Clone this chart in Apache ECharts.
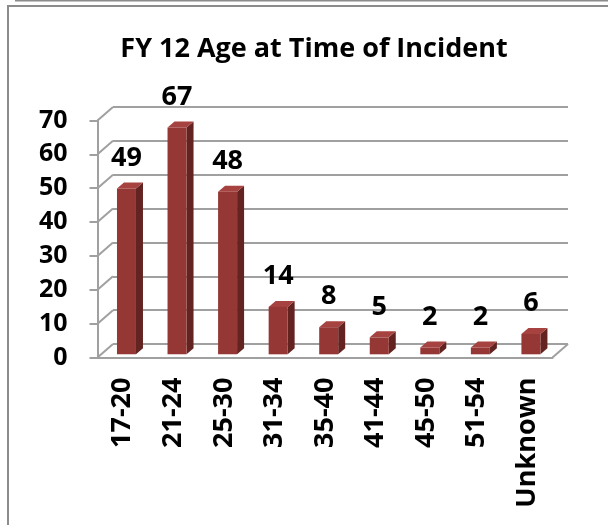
<!DOCTYPE html>
<html lang="en">
<head>
    <meta charset="UTF-8">
    <title>FY 12 Age at Time of Incident</title>
    <script src="https://cdn.jsdelivr.net/npm/echarts@6/dist/echarts.min.js"></script>
    <style>
        html, body { margin: 0; padding: 0; background: #fff; }
        #main { width: 608px; height: 525px; }
    </style>
</head>
<body>
<div id="main"></div>
<script>
    // data
    var categories = ['17-20', '21-24', '25-30', '31-34', '35-40', '41-44', '45-50', '51-54', 'Unknown'];
    var counts = [49, 67, 48, 14, 8, 5, 2, 2, 6];
    var yTicks = [0, 10, 20, 30, 40, 50, 60, 70];

    // fake 3d: back wall grid and front grid shifted by the depth vector
    var DX = -15.5, DY = 13.5;
    var FRONT = [-11.8, 10.3];   // bar front face offset from back wall
    var SIDE = [7, -6];          // bar depth
    var FONT = '"Open Sans", "Liberation Sans", sans-serif';
    var GRAY = '#a0a0a0';

    var back = { left: 113, top: 107, width: 455, height: 237 };
    var front = { left: back.left + DX, top: back.top + DY, width: back.width, height: back.height };

    var myChart = echarts.init(document.getElementById('main'));

    var option = {
        animation: false,
        title: {
            text: 'FY 12 Age at Time of Incident',
            left: 309,
            textAlign: 'center',
            top: 31,
            textStyle: { fontFamily: FONT, fontWeight: 'bold', fontSize: 27, color: '#000' }
        },
        graphic: [
            { type: 'line', shape: { x1: 15, y1: 0.5, x2: 608, y2: 0.5 }, style: { stroke: '#8c8c8c', lineWidth: 2 } },
            { type: 'line', shape: { x1: 7, y1: 6, x2: 608, y2: 6 }, style: { stroke: '#8c8c8c', lineWidth: 2 } },
            { type: 'line', shape: { x1: 8, y1: 5, x2: 8, y2: 525 }, style: { stroke: '#8c8c8c', lineWidth: 2 } }
        ],
        grid: [
            { left: back.left, top: back.top, width: back.width, height: back.height },
            { left: front.left, top: front.top, width: front.width, height: front.height }
        ],
        xAxis: [
            { gridIndex: 0, type: 'category', data: categories, show: false },
            {
                gridIndex: 1, type: 'category', data: categories,
                axisLine: { lineStyle: { color: GRAY, width: 2 } },
                axisTick: { show: false },
                axisLabel: {
                    rotate: 90, margin: 20, interval: 0,
                    fontFamily: FONT, fontWeight: 'bold', fontSize: 27, color: '#000'
                }
            }
        ],
        yAxis: [
            {
                gridIndex: 0, type: 'value', min: 0, max: 70, interval: 10,
                axisLine: { show: false }, axisTick: { show: false }, axisLabel: { show: false },
                splitLine: { lineStyle: { color: GRAY, width: 2 } }
            },
            {
                gridIndex: 1, type: 'value', min: 0, max: 70, interval: 10,
                axisLine: { show: true, lineStyle: { color: GRAY, width: 2 } },
                axisTick: { show: true, length: 8, lineStyle: { color: GRAY, width: 2 } },
                splitLine: { show: false },
                axisLabel: { margin: 30, fontFamily: FONT, fontWeight: 'bold', fontSize: 25, color: '#000' }
            }
        ],
        series: [
            {
                // side wall connectors + right floor edge
                type: 'custom',
                xAxisIndex: 0, yAxisIndex: 0,
                silent: true,
                data: yTicks.map(function (t) { return [0, t]; }),
                renderItem: function (params, api) {
                    var cs = params.coordSys;
                    var y = api.coord([0, api.value(1)])[1];
                    var kids = [{
                        type: 'line',
                        shape: { x1: cs.x, y1: y, x2: cs.x + DX, y2: y + DY },
                        style: { stroke: GRAY, lineWidth: 2 }
                    }];
                    if (api.value(1) === 0) {
                        kids.push({
                            type: 'line',
                            shape: { x1: cs.x + cs.width, y1: y, x2: cs.x + cs.width + DX, y2: y + DY },
                            style: { stroke: GRAY, lineWidth: 2 }
                        });
                    }
                    return { type: 'group', children: kids };
                }
            },
            {
                type: 'custom',
                xAxisIndex: 0, yAxisIndex: 0,
                data: counts.map(function (v, i) { return [i, v]; }),
                renderItem: function (params, api) {
                    var i = api.value(0), v = api.value(1);
                    var base = api.coord([i, 0]);
                    var top = api.coord([i, v]);
                    var w = 19;
                    var cx = base[0] + FRONT[0];
                    var x0 = cx - w / 2, x1 = cx + w / 2;
                    var yb = base[1] + FRONT[1], yt = top[1] + FRONT[1];
                    return {
                        type: 'group',
                        children: [
                            {
                                type: 'polygon',
                                shape: { points: [[x1, yt], [x1 + SIDE[0], yt + SIDE[1]], [x1 + SIDE[0], yb + SIDE[1]], [x1, yb]] },
                                style: { fill: '#622321' }
                            },
                            {
                                type: 'polygon',
                                shape: { points: [[x0, yt], [x1, yt], [x1 + SIDE[0], yt + SIDE[1]], [x0 + SIDE[0], yt + SIDE[1]]] },
                                style: { fill: '#a6423f' }
                            },
                            {
                                type: 'rect',
                                shape: { x: x0, y: yt, width: w, height: yb - yt },
                                style: { fill: '#953735' }
                            },
                            {
                                type: 'text',
                                x: cx, y: yt - 17,
                                style: {
                                    text: String(v), textAlign: 'center', textVerticalAlign: 'bottom',
                                    font: 'bold 27px ' + FONT, fill: '#000'
                                }
                            }
                        ]
                    };
                }
            }
        ]
    };

    myChart.setOption(option);
</script>
</body>
</html>
